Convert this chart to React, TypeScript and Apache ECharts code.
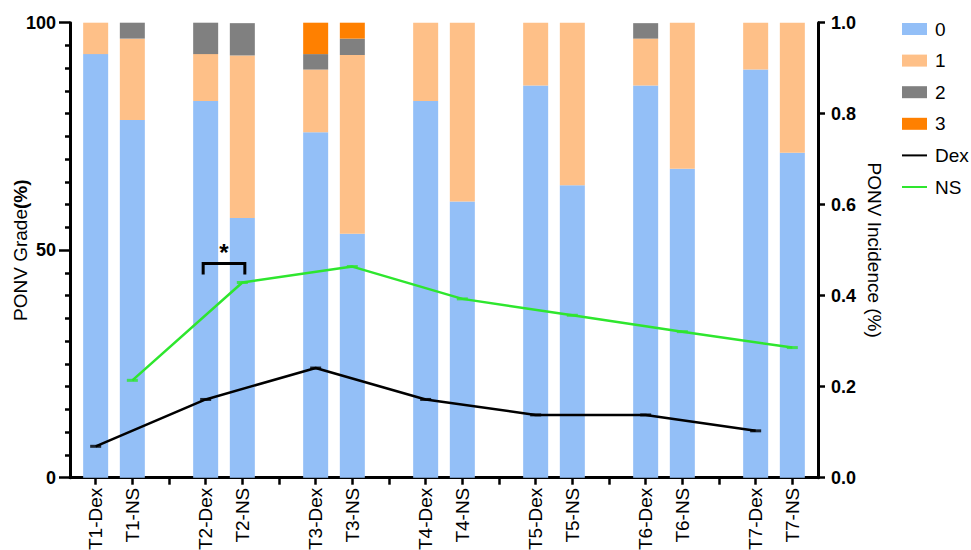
import React, { useEffect, useRef } from "react";
import * as echarts from "echarts";

// Slots along the x axis; empty strings are the spacers between time points.
const categories = [
  "T1-Dex", "T1-NS", "",
  "T2-Dex", "T2-NS", "",
  "T3-Dex", "T3-NS", "",
  "T4-Dex", "T4-NS", "",
  "T5-Dex", "T5-NS", "",
  "T6-Dex", "T6-NS", "",
  "T7-Dex", "T7-NS",
];

// Bars in display order (percent of patients per PONV grade)
const barLabels = [
  "T1-Dex", "T1-NS", "T2-Dex", "T2-NS", "T3-Dex", "T3-NS", "T4-Dex",
  "T4-NS", "T5-Dex", "T5-NS", "T6-Dex", "T6-NS", "T7-Dex", "T7-NS",
];
const grade0 = [93.1, 78.6, 82.8, 57.1, 75.9, 53.6, 82.8, 60.7, 86.2, 64.3, 86.2, 67.9, 89.7, 71.4];
const grade1 = [6.9, 17.9, 10.3, 35.7, 13.8, 39.3, 17.2, 39.3, 13.8, 35.7, 10.3, 32.1, 10.3, 28.6];
const grade2 = [0, 3.6, 6.9, 7.1, 3.4, 3.6, 0, 0, 0, 0, 3.4, 0, 0, 0];
const grade3 = [0, 0, 0, 0, 6.9, 3.6, 0, 0, 0, 0, 0, 0, 0, 0];

// PONV incidence per time point (right axis)
const dexLabels = ["T1-Dex", "T2-Dex", "T3-Dex", "T4-Dex", "T5-Dex", "T6-Dex", "T7-Dex"];
const dexIncidence = [0.069, 0.172, 0.241, 0.172, 0.138, 0.138, 0.103];
const nsLabels = ["T1-NS", "T2-NS", "T3-NS", "T4-NS", "T5-NS", "T6-NS", "T7-NS"];
const nsIncidence = [0.214, 0.429, 0.464, 0.393, 0.357, 0.321, 0.286];

// Significance bracket between two bars (level on the left axis)
const sigBrackets = [{ from: "T2-Dex", to: "T2-NS", level: 47.1, mark: "*" }];

const gradeColors = ["#93BFF7", "#FEC088", "#808080", "#FF8000"];
const gradeNames = ["0", "1", "2", "3"];
const dexColor = "#000000";
const nsColor = "#2EE62E";

const FONT = "Arial, 'Liberation Sans', Helvetica, sans-serif";

const pos = (label: string) => categories.indexOf(label);

// Frame of the visible axes, and the inset plotting band used by the series
const FRAME = { left: 70, right: 153, top: 22.7, bottom: 72.3 };
const EDGE = 0.7; // slots between the axis frame and the first / last bar centre

const axisLine = () => ({ show: true, onZero: false, lineStyle: { color: "#000", width: 3 } });
const tickStyle = () => ({ color: "#000", width: 2.5 });

export default function App() {
  const ref = useRef<HTMLDivElement>(null);

  useEffect(() => {
    if (!ref.current) return;
    const chart = echarts.init(ref.current, null, { renderer: "svg" });

    const frameWidth = 971 - FRAME.left - FRAME.right;
    const slot = frameWidth / (categories.length - 1 + 2 * EDGE);
    const inset = (EDGE - 0.5) * slot;

    const grades = [grade0, grade1, grade2, grade3];
    const barSeries = grades.map((vals, gi) => ({
      name: gradeNames[gi],
      type: "bar",
      stack: "grade",
      xAxisIndex: 2,
      yAxisIndex: 3,
      barWidth: 25,
      itemStyle: { color: gradeColors[gi] },
      data: vals.map((v, i) => [pos(barLabels[i]), v]),
      z: 2,
    }));

    const lineSeries = (name: string, labels: string[], vals: number[], color: string) => [
      {
        name,
        type: "line",
        xAxisIndex: 2,
        yAxisIndex: 4,
        symbol: "none",
        lineStyle: { color, width: 2.5 },
        itemStyle: { color },
        data: labels.map((l, i) => [pos(l), vals[i]]),
        z: 5,
      },
      {
        name: name + " points",
        type: "scatter",
        xAxisIndex: 2,
        yAxisIndex: 4,
        symbol: "rect",
        symbolSize: [11, 3],
        itemStyle: { color },
        data: labels.map((l, i) => [pos(l), vals[i]]),
        z: 6,
      },
    ];

    const bracketSeries = {
      name: "significance",
      type: "custom",
      xAxisIndex: 2,
      yAxisIndex: 3,
      z: 7,
      encode: { x: [0, 1], y: 2 },
      data: sigBrackets.map((b) => [pos(b.from), pos(b.to), b.level]),
      renderItem: (params: any, api: any) => {
        const b = sigBrackets[params.dataIndex];
        const p1 = api.coord([api.value(0), api.value(2)]);
        const p2 = api.coord([api.value(1), api.value(2)]);
        const leg = 11;
        const xa = p1[0] - 2.5;
        const xb = p2[0] + 2.5;
        const y = p1[1];
        return {
          type: "group",
          children: [
            {
              type: "polyline",
              shape: { points: [[xa, y + leg], [xa, y], [xb, y], [xb, y + leg]] },
              style: { stroke: "#000", lineWidth: 3, fill: null, lineJoin: "miter" },
            },
            {
              type: "text",
              style: {
                text: b.mark,
                x: (xa + xb) / 2,
                y: y - 11,
                align: "center",
                verticalAlign: "middle",
                font: `bold 24px ${FONT}`,
                fill: "#000",
              },
            },
          ],
        };
      },
    };

    chart.setOption({
      animation: false,
      backgroundColor: "#ffffff",
      textStyle: { fontFamily: FONT, color: "#000" },
      grid: [
        // 0: left / right value axes
        { ...FRAME, containLabel: false, outerBoundsMode: "none" },
        // 1: bottom axis with time-point labels
        { ...FRAME, containLabel: false, outerBoundsMode: "none" },
        // 2: band the series are laid out on
        {
          left: FRAME.left + inset,
          right: FRAME.right + inset,
          top: FRAME.top,
          bottom: FRAME.bottom,
          containLabel: false,
          outerBoundsMode: "none",
        },
      ],
      legend: {
        orient: "vertical",
        left: 896,
        top: 14,
        itemWidth: 25,
        itemHeight: 12,
        itemGap: 11.6,
        selectedMode: false,
        textStyle: { fontSize: 19, lineHeight: 20, color: "#000", fontFamily: FONT, padding: [0, 0, 0, 3] },
        data: [
          ...gradeNames.map((n) => ({ name: n, icon: "rect" })),
          { name: "Dex", itemStyle: { opacity: 0 } },
          { name: "NS", itemStyle: { opacity: 0 } },
        ],
      },
      xAxis: [
        { type: "category", gridIndex: 0, show: false, data: ["frame"] },
        {
          type: "value",
          gridIndex: 1,
          min: -EDGE,
          max: categories.length - 1 + EDGE,
          axisLine: axisLine(),
          splitLine: { show: false },
          axisTick: {
            show: true,
            length: 7,
            lineStyle: tickStyle(),
            customValues: categories.map((_, i) => i),
          },
          axisLabel: {
            customValues: categories.map((c, i) => (c ? i : -1)).filter((i) => i >= 0),
            formatter: (v: number) => categories[Math.round(v)] || "",
            rotate: 90,
            margin: 10,
            fontSize: 19,
            color: "#000",
            fontFamily: FONT,
          },
        },
        {
          type: "category",
          gridIndex: 2,
          show: false,
          data: categories.map((c, i) => c || `gap-${i}`),
        },
      ],
      yAxis: [
        {
          type: "value",
          gridIndex: 0,
          min: 0,
          max: 100,
          interval: 50,
          position: "left",
          name: "{a|PONV Grade}{b|(%)}",
          nameLocation: "middle",
          nameRotate: 90,
          nameGap: 40,
          nameMoveOverlap: false,
          nameTextStyle: {
            rich: {
              a: { fontSize: 19, fontFamily: FONT, color: "#000" },
              b: { fontSize: 19, fontFamily: FONT, color: "#000", fontWeight: "bold" },
            },
          },
          axisLine: axisLine(),
          splitLine: { show: false },
          axisTick: { show: true, length: 11, lineStyle: tickStyle() },
          minorTick: { show: true, splitNumber: 10, length: 5, lineStyle: tickStyle() },
          minorSplitLine: { show: false },
          axisLabel: { fontSize: 18, fontWeight: "bold", color: "#000", margin: 14, fontFamily: FONT },
        },
        {
          type: "value",
          gridIndex: 0,
          min: 0,
          max: 1,
          interval: 0.2,
          position: "right",
          name: "PONV Incidence (%)",
          nameLocation: "middle",
          nameRotate: -90,
          nameGap: 47,
          nameMoveOverlap: false,
          nameTextStyle: { fontSize: 19, fontFamily: FONT, color: "#000" },
          axisLine: axisLine(),
          splitLine: { show: false },
          axisTick: { show: true, length: 7, lineStyle: tickStyle() },
          axisLabel: {
            fontSize: 18,
            fontWeight: "bold",
            color: "#000",
            margin: 13,
            fontFamily: FONT,
            formatter: (v: number) => v.toFixed(1),
          },
        },
        { type: "value", gridIndex: 1, min: 0, max: 1, show: false, splitLine: { show: false } },
        { type: "value", gridIndex: 2, min: 0, max: 100, show: false, splitLine: { show: false } },
        { type: "value", gridIndex: 2, min: 0, max: 1, show: false, splitLine: { show: false } },
      ],
      series: [
        ...barSeries,
        ...lineSeries("Dex", dexLabels, dexIncidence, dexColor),
        ...lineSeries("NS", nsLabels, nsIncidence, nsColor),
        bracketSeries,
      ],
    });

    return () => chart.dispose();
  }, []);

  return (
    <div
      ref={ref}
      style={{ position: "fixed", left: 0, top: 0, width: 971, height: 550, background: "#fff" }}
    />
  );
}
